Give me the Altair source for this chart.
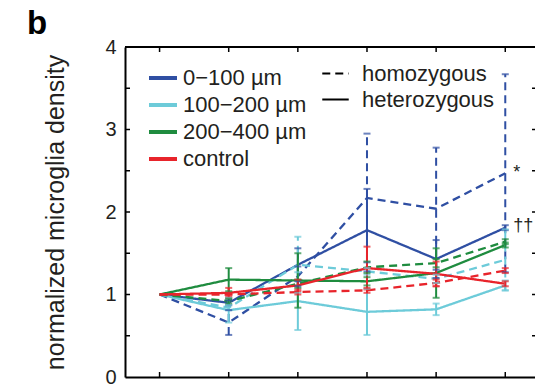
import altair as alt
import pandas as pd

# ---------------- data ----------------
x_vals = [1, 2, 3, 4, 5, 6]
groups = ["0−100 µm", "100−200 µm", "200−400 µm", "control"]
colors = ["#2F4FA3", "#6DCBD9", "#1F8C3F", "#E8242B"]
genotypes = ["homozygous", "heterozygous"]

het_blue = [1.00, 0.90, 1.36, 1.78, 1.43, 1.81]
het_blue_err = [0, 0.03, 0.20, 0.50, 0.23, 0.03]
hom_blue = [1.00, 0.66, 1.22, 2.17, 2.04, 2.47]
hom_blue_err = [0, 0.15, 0.12, 0.78, 0.74, 1.20]

het_cyan = [1.00, 0.81, 0.92, 0.79, 0.82, 1.11]
het_cyan_err = [0, 0.15, 0.35, 0.28, 0.07, 0.06]
hom_cyan = [1.00, 0.84, 1.36, 1.28, 1.19, 1.42]
hom_cyan_err = [0, 0.03, 0.34, 0.04, 0.05, 0.37]

het_green = [1.00, 1.18, 1.17, 1.16, 1.26, 1.60]
het_green_err = [0, 0.14, 0.33, 0.05, 0.30, 0.03]
hom_green = [1.00, 0.92, 1.13, 1.33, 1.38, 1.64]
hom_green_err = [0, 0.03, 0.05, 0.07, 0.05, 0.03]

het_red = [1.00, 1.02, 1.11, 1.32, 1.25, 1.13]
het_red_err = [0, 0.06, 0.07, 0.26, 0.15, 0.03]
hom_red = [1.00, 1.00, 1.03, 1.05, 1.14, 1.29]
hom_red_err = [0, 0.02, 0.03, 0.03, 0.04, 0.03]

ann_text = ["*", "††"]
ann_x = [6, 6]
ann_y = [2.47, 1.83]

y_tick_labels = [0, 1, 2, 3, 4]
y_minor = [0.5, 1, 1.5, 2, 2.5, 3, 3.5]

series = [
    (groups[0], "heterozygous", het_blue, het_blue_err),
    (groups[0], "homozygous", hom_blue, hom_blue_err),
    (groups[1], "heterozygous", het_cyan, het_cyan_err),
    (groups[1], "homozygous", hom_cyan, hom_cyan_err),
    (groups[2], "heterozygous", het_green, het_green_err),
    (groups[2], "homozygous", hom_green, hom_green_err),
    (groups[3], "heterozygous", het_red, het_red_err),
    (groups[3], "homozygous", hom_red, hom_red_err),
]
rows = []
for g, gt, vals, errs in series:
    for xv, v, e in zip(x_vals, vals, errs):
        rows.append({"group": g, "genotype": gt, "x": xv, "y": v,
                     "err": e, "lo": v - e, "hi": v + e})
df = pd.DataFrame(rows)
df_err = df[df["err"] > 0]

W, H = 410, 330
FONT = "Liberation Sans"
TXT = "#231F20"

xscale = alt.Scale(domain=[0.5, 6.43], nice=False, zero=False)
yscale = alt.Scale(domain=[0, 4], nice=False, zero=False)

color = alt.Color(
    "group:N",
    scale=alt.Scale(domain=groups, range=colors),
    legend=alt.Legend(
        orient="none", legendX=22, legendY=15, title=None,
        symbolType="stroke", symbolSize=784, symbolStrokeWidth=4,
        symbolDash=[1, 0], labelFontSize=22, labelFont=FONT,
        labelColor=TXT, labelOffset=4, rowPadding=0,
    ),
)
dash = alt.StrokeDash(
    "genotype:N",
    scale=alt.Scale(domain=genotypes, range=[[8, 5], [1, 0]]),
    legend=alt.Legend(
        orient="none", legendX=196, legendY=12, title=None,
        symbolType="stroke", symbolSize=700, symbolStrokeWidth=2,
        symbolStrokeColor="black", labelFontSize=22, labelFont=FONT,
        labelColor=TXT, labelOffset=12, rowPadding=0,
    ),
)

x_enc = alt.X("x:Q", scale=xscale,
              axis=alt.Axis(title=None, labels=False, ticks=False, grid=False,
                            domainColor="black", domainWidth=2))
y_enc = alt.Y("y:Q", scale=yscale,
              axis=alt.Axis(title="normalized microglia density", values=y_tick_labels,
                            format="d", ticks=False, tickSize=0, grid=False,
                            domainColor="black", domainWidth=2, labelFontSize=20,
                            labelFont=FONT, labelColor=TXT, labelPadding=9,
                            titleFontSize=25, titleFont=FONT, titleFontWeight="normal",
                            titleColor=TXT, titlePadding=36))

lines = alt.Chart(df).mark_line(strokeWidth=2.3).encode(
    x=x_enc, y=y_enc, color=color, strokeDash=dash,
    detail="genotype:N",
)

bars = alt.Chart(df_err).mark_rule(strokeWidth=2).encode(
    x="x:Q", y="lo:Q", y2="hi:Q",
    color=alt.Color("group:N", legend=None),
    strokeDash=alt.StrokeDash("genotype:N", legend=None),
)
caps_lo = alt.Chart(df_err).mark_tick(orient="horizontal", size=7, thickness=2).encode(
    x="x:Q", y="lo:Q", color=alt.Color("group:N", legend=None))
caps_hi = alt.Chart(df_err).mark_tick(orient="horizontal", size=7, thickness=2).encode(
    x="x:Q", y="hi:Q", color=alt.Color("group:N", legend=None))

ann = alt.Chart(pd.DataFrame({"t": ann_text, "x": ann_x, "y": ann_y})).mark_text(
    align="left", baseline="middle", dx=8, fontSize=18, font=FONT, color=TXT
).encode(x="x:Q", y="y:Q", text="t:N")

# frame: top line and inward ticks
ytick_df = pd.DataFrame({"y": y_minor})
xtick_df = pd.DataFrame({"x": x_vals})
left_ticks = alt.Chart(ytick_df).mark_rule(color="black", strokeWidth=1.5).encode(
    y="y:Q", x=alt.value(0), x2=alt.value(5))
right_ticks = alt.Chart(ytick_df).mark_rule(color="black", strokeWidth=1.5).encode(
    y="y:Q", x=alt.value(W - 3), x2=alt.value(W))
top_ticks = alt.Chart(xtick_df).mark_rule(color="black", strokeWidth=1.5).encode(
    x="x:Q", y=alt.value(0), y2=alt.value(5))
bot_ticks = alt.Chart(xtick_df).mark_rule(color="black", strokeWidth=1.5).encode(
    x="x:Q", y=alt.value(H), y2=alt.value(H - 5))
top_line = alt.Chart(pd.DataFrame({"a": [0]})).mark_rule(color="black", strokeWidth=2).encode(
    x=alt.value(0), x2=alt.value(W), y=alt.value(0))

panel = alt.Chart(pd.DataFrame({"t": ["b"]})).mark_text(
    align="left", baseline="alphabetic", fontSize=33, fontWeight="bold",
    font=FONT, color="black"
).encode(text="t:N", x=alt.value(-98), y=alt.value(-13))

chart = alt.layer(
    lines, bars, caps_lo, caps_hi, ann,
    left_ticks, right_ticks, top_ticks, bot_ticks, top_line, panel
).properties(
    width=W, height=H,
    autosize=alt.AutoSizeParams(type="none"),
    padding={"left": 125, "top": 47, "right": 0, "bottom": 8},
).configure_view(stroke=None).configure(font=FONT, background="white")

chart.save("out.html", embed_options={"renderer": "svg", "actions": False})
